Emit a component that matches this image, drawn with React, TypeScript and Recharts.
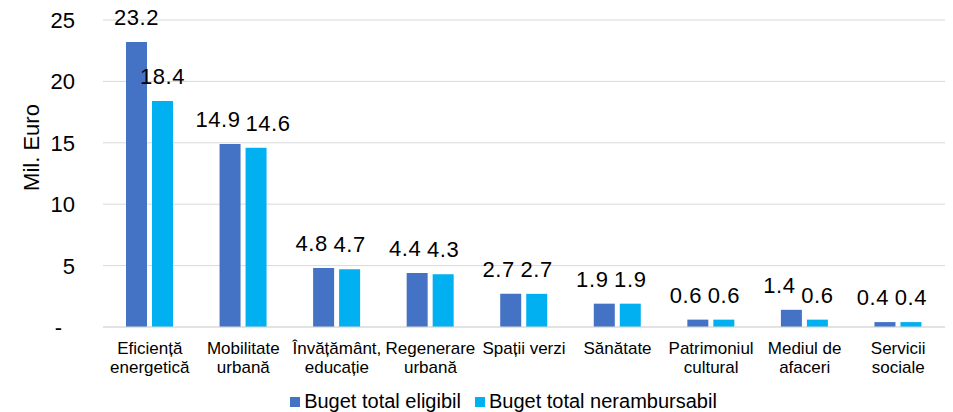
import React from 'react'
import { BarChart, Bar, XAxis, YAxis, CartesianGrid, Legend, LabelList, Label } from 'recharts'

// category names (line breaks where the original wraps)
const categories = [
  'Eficiență\nenergetică',
  'Mobilitate\nurbană',
  'Învățământ,\neducație',
  'Regenerare\nurbană',
  'Spații verzi',
  'Sănătate',
  'Patrimoniul\ncultural',
  'Mediul de\nafaceri',
  'Servicii\nsociale',
]
const eligibil = [23.2, 14.9, 4.8, 4.4, 2.7, 1.9, 0.6, 1.4, 0.4]
const nerambursabil = [18.4, 14.6, 4.7, 4.3, 2.7, 1.9, 0.6, 0.6, 0.4]
const yTicks = [0, 5, 10, 15, 20, 25]
const seriesNames = ['Buget total eligibil', 'Buget total nerambursabil']
const colors = ['#4472C4', '#00B0F0']

const data = categories.map((name, i) => ({
  name,
  eligibil: eligibil[i],
  nerambursabil: nerambursabil[i],
}))

const FONT = '"Liberation Sans", Arial, sans-serif'

const CategoryTick = (props: any) => {
  const { x, y, payload } = props
  const lines = String(payload.value).split('\n')
  return (
    <text x={x} y={y + 27} textAnchor="middle" fontSize={17} fill="#000" fontFamily={FONT}>
      {lines.map((line, i) => (
        <tspan key={i} x={x} dy={i === 0 ? 0 : 19}>
          {line}
        </tspan>
      ))}
    </text>
  )
}

const ValueTick = (props: any) => {
  const { x, y, payload } = props
  const isZero = payload.value === 0
  return (
    <text
      x={isZero ? x - 41 : x - 28}
      y={y}
      dy="0.36em"
      textAnchor="end"
      fontSize={22}
      fill="#000"
      fontFamily={FONT}
    >
      {isZero ? '-' : payload.value}
    </text>
  )
}

const AxisTitle = (props: any) => {
  const { viewBox } = props
  const cx = viewBox.x + 31
  const cy = viewBox.y + viewBox.height / 2 - 26
  return (
    <text
      x={cx}
      y={cy}
      transform={`rotate(-90, ${cx}, ${cy})`}
      textAnchor="middle"
      dy="0.36em"
      fontSize={22}
      fill="#000"
      fontFamily={FONT}
    >
      Mil. Euro
    </text>
  )
}

// value labels; when the pair of labels in a category would collide,
// push them apart like the original does
const makeValueLabel = (series: 'eligibil' | 'nerambursabil') => (props: any) => {
  const { x, y, width, index, value } = props
  const a = eligibil[index]
  const b = nerambursabil[index]
  const close = Math.abs(a - b) < 3
  let dx = 0
  if (close && series === 'eligibil') dx = -12
  if (close && series === 'nerambursabil' && b >= 10) dx = 12
  return (
    <text
      x={x + width / 2 + dx}
      y={y - 17}
      textAnchor="middle"
      fontSize={22}
      letterSpacing={0.6}
      fill="#000"
      fontFamily={FONT}
    >
      {Number(value).toFixed(1)}
    </text>
  )
}

const LegendContent = () => (
  <div
    style={{
      display: 'flex',
      justifyContent: 'center',
      alignItems: 'center',
      height: 27,
      paddingLeft: 62,
      paddingTop: 6,
      boxSizing: 'border-box',
      fontFamily: FONT,
      fontSize: 20,
      color: '#000',
    }}
  >
    {seriesNames.map((n, i) => (
      <div key={n} style={{ display: 'flex', alignItems: 'center', marginRight: i === 0 ? 14 : 0 }}>
        <span style={{ width: 10, height: 10, background: colors[i], marginRight: 4, display: 'inline-block' }} />
        <span>{n}</span>
      </div>
    ))}
  </div>
)

export default function App() {
  return (
    <div style={{ width: 953, height: 412, fontFamily: FONT, background: '#fff' }}>
      <style>{'body{margin:0}'}</style>
      <BarChart
        width={953}
        height={412}
        data={data}
        margin={{ top: 20, right: 8, left: 0, bottom: 0 }}
        barSize={21}
        barGap={5}
      >
        <CartesianGrid vertical={false} stroke="#d9d9d9" />
        <XAxis
          dataKey="name"
          height={58}
          interval={0}
          tick={<CategoryTick />}
          tickLine={false}
          tickSize={0}
          tickMargin={0}
          axisLine={{ stroke: '#d9d9d9' }}
        />
        <YAxis
          width={103}
          domain={[0, 25]}
          ticks={yTicks}
          tick={<ValueTick />}
          tickLine={false}
          tickSize={0}
          tickMargin={0}
          axisLine={false}
        >
          <Label content={<AxisTitle />} />
        </YAxis>
        <Legend verticalAlign="bottom" height={27} content={<LegendContent />} />
        <Bar dataKey="eligibil" name={seriesNames[0]} fill={colors[0]} isAnimationActive={false}>
          <LabelList dataKey="eligibil" content={makeValueLabel('eligibil')} />
        </Bar>
        <Bar dataKey="nerambursabil" name={seriesNames[1]} fill={colors[1]} isAnimationActive={false}>
          <LabelList dataKey="nerambursabil" content={makeValueLabel('nerambursabil')} />
        </Bar>
      </BarChart>
    </div>
  )
}
